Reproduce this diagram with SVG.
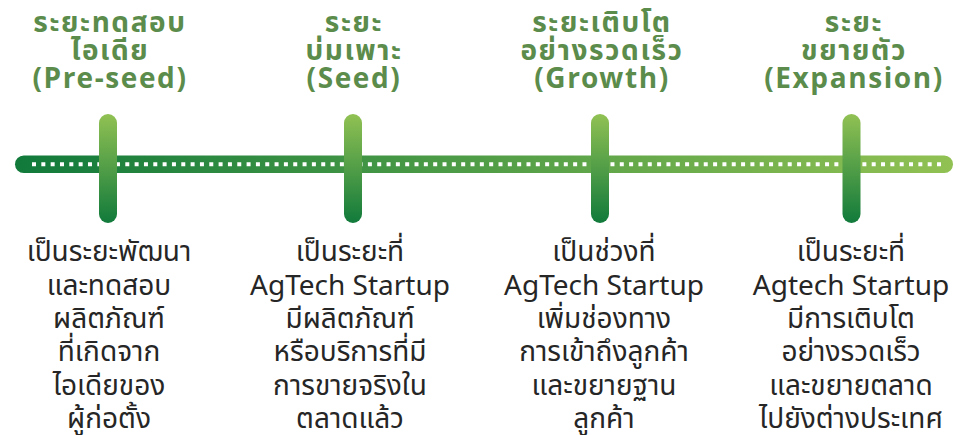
<svg xmlns="http://www.w3.org/2000/svg" width="963" height="435" viewBox="0 0 963 435">
<defs>
<linearGradient id="hbar" x1="0" y1="0" x2="1" y2="0">
<stop offset="0" stop-color="#117a3b"/>
<stop offset="1" stop-color="#91c153"/>
</linearGradient>
<linearGradient id="vbar" x1="0" y1="0" x2="0" y2="1">
<stop offset="0" stop-color="#91c153"/>
<stop offset="1" stop-color="#117a3b"/>
</linearGradient>
</defs>
<style>
.h{font-family:"Noto Sans Thai","Noto Sans","DejaVu Sans",sans-serif;font-weight:bold;font-size:28px;letter-spacing:1.6px;fill:#5b8c4b;text-anchor:middle}
.b{font-family:"Noto Sans Thai","Noto Sans","DejaVu Sans",sans-serif;font-size:28px;fill:#262626;text-anchor:middle}
.vb{fill:url(#vbar)}
</style>
<g id="timeline">
<rect x="15" y="155.5" width="938" height="17.5" rx="8.75" fill="url(#hbar)"/>
<line x1="32" y1="164.2" x2="944" y2="164.2" stroke="#ffffff" stroke-width="4" stroke-dasharray="4 5.33"/>
</g>
<g id="connectors">
<rect class="vb" x="99" y="114" width="18" height="109" rx="9"/>
<rect class="vb" x="344" y="114" width="18" height="109" rx="9"/>
<rect class="vb" x="591" y="114" width="18" height="109" rx="9"/>
<rect class="vb" x="842.5" y="114" width="18" height="109" rx="9"/>
</g>
<g id="stage1">
<text class="h" x="110" y="32">ระยะทดสอบ</text>
<text class="h" x="110" y="60">ไอเดีย</text>
<text class="h" x="110" y="88">(Pre-seed)</text>
<text class="b" x="109" y="261">เป็นระยะพัฒนา</text>
<text class="b" x="109" y="295">และทดสอบ</text>
<text class="b" x="109" y="328">ผลิตภัณฑ์</text>
<text class="b" x="109" y="361">ที่เกิดจาก</text>
<text class="b" x="109" y="395">ไอเดียของ</text>
<text class="b" x="109" y="428">ผู้ก่อตั้ง</text>
</g>
<g id="stage2">
<text class="h" x="354" y="32">ระยะ</text>
<text class="h" x="354" y="60">บ่มเพาะ</text>
<text class="h" x="354" y="88">(Seed)</text>
<text class="b" x="350" y="261">เป็นระยะที่</text>
<text class="b" x="350" y="295">AgTech Startup</text>
<text class="b" x="350" y="328">มีผลิตภัณฑ์</text>
<text class="b" x="350" y="361">หรือบริการที่มี</text>
<text class="b" x="350" y="395">การขายจริงใน</text>
<text class="b" x="350" y="428">ตลาดแล้ว</text>
</g>
<g id="stage3">
<text class="h" x="602" y="32">ระยะเติบโต</text>
<text class="h" x="602" y="60">อย่างรวดเร็ว</text>
<text class="h" x="602" y="88">(Growth)</text>
<text class="b" x="604" y="261">เป็นช่วงที่</text>
<text class="b" x="604" y="295">AgTech Startup</text>
<text class="b" x="604" y="328">เพิ่มช่องทาง</text>
<text class="b" x="604" y="361">การเข้าถึงลูกค้า</text>
<text class="b" x="604" y="395">และขยายฐาน</text>
<text class="b" x="604" y="428">ลูกค้า</text>
</g>
<g id="stage4">
<text class="h" x="854" y="32">ระยะ</text>
<text class="h" x="854" y="60">ขยายตัว</text>
<text class="h" x="854" y="88">(Expansion)</text>
<text class="b" x="851" y="261">เป็นระยะที่</text>
<text class="b" x="851" y="295">Agtech Startup</text>
<text class="b" x="851" y="328">มีการเติบโต</text>
<text class="b" x="851" y="361">อย่างรวดเร็ว</text>
<text class="b" x="851" y="395">และขยายตลาด</text>
<text class="b" x="851" y="428">ไปยังต่างประเทศ</text>
</g>
</svg>
